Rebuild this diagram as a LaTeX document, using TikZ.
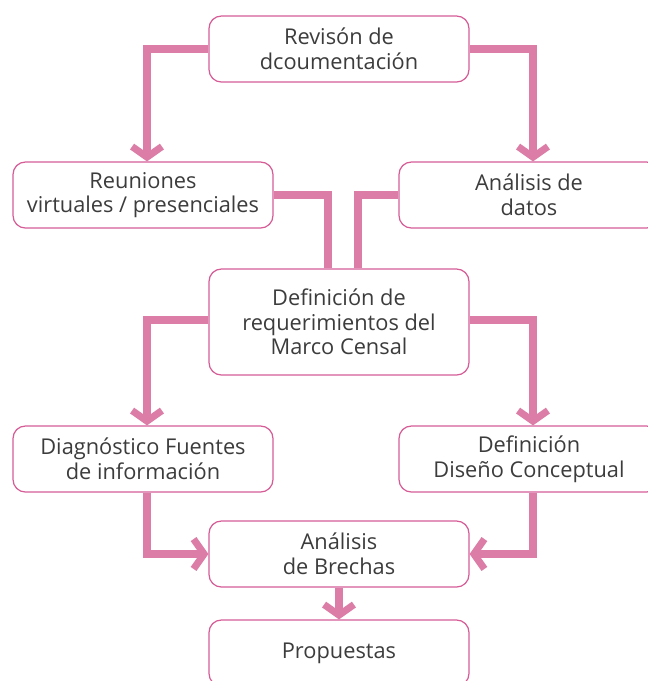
\documentclass[tikz,border=0pt]{standalone}
\usepackage{fontspec}
\setmainfont{Open Sans}
\usepackage{xcolor}
\usepackage{tikz}
\usetikzlibrary{arrows.meta}

\definecolor{boxline}{RGB}{214,92,150}
\definecolor{linkpink}{RGB}{219,125,166}
\definecolor{txtgray}{RGB}{60,60,60}

\begin{document}
\begin{tikzpicture}[
    x=0.02cm, y=-0.02cm, % one unit = one pixel
    stepbox/.style={rectangle,rounded corners=7pt,draw=boxline,line width=0.7pt,
        minimum width=5.2cm,minimum height=1.32cm,align=center,text=txtgray,
        font=\fontsize{12.4}{14}\selectfont},
    tallbox/.style={stepbox,minimum height=2.12cm},
    link/.style={draw=linkpink,line width=4pt},
    arr/.style={link,-{Straight Barb[length=6pt,width=17pt,line width=4pt]}}
]
    \useasboundingbox (0,0) rectangle (648,681);
    \clip (0,0) rectangle (648,681);

    % boxes
    \node[stepbox] (rev) at (339,49) {Revisón de\\dcoumentación};
    \node[stepbox] (reu) at (143,195) {Reuniones\\virtuales / presenciales};
    \node[stepbox] (ana) at (529,195) {Análisis de\\datos};
    \node[tallbox] (def) at (339,322) {Definición de\\requerimientos del\\Marco Censal};
    \node[stepbox] (dia) at (143,459) {Diagnóstico Fuentes\\de información};
    \node[stepbox] (dis) at (529,459) {Definición\\Diseño Conceptual};
    \node[stepbox] (bre) at (339,554) {Análisis\\de Brechas};
    \node[stepbox] (pro) at (339,653) {Propuestas};

    % connectors
    \draw[arr] (rev.west) -| ([xshift=0.08cm]reu.north);
    \draw[arr] (rev.east) -| ([xshift=0.08cm]ana.north);
    \draw[link] (reu.east) -| ([xshift=-0.22cm]def.north);
    \draw[link] (ana.west) -| ([xshift=0.38cm]def.north);
    \draw[arr] ([yshift=0.04cm]def.west) -| ([xshift=0.08cm]dia.north);
    \draw[arr] ([yshift=0.04cm]def.east) -| ([xshift=0.08cm]dis.north);
    \draw[arr] ([xshift=0.08cm]dia.south) |- (bre.west);
    \draw[arr] ([xshift=0.08cm]dis.south) |- (bre.east);
    \draw[arr] (bre.south) -- (pro.north);
\end{tikzpicture}
\end{document}
